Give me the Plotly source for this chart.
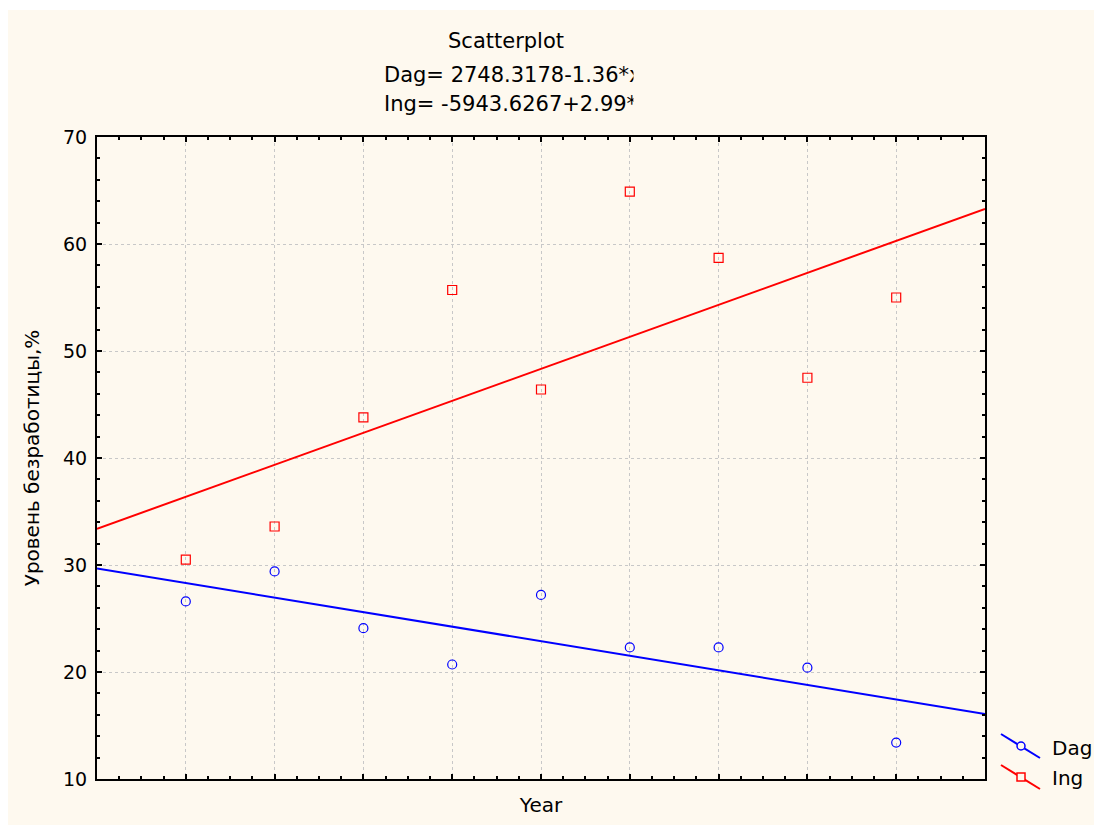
import plotly.graph_objects as go

# --- data -------------------------------------------------------------
years = [2000, 2001, 2002, 2003, 2004, 2005, 2006, 2007, 2008]
dag = [26.6, 29.4, 24.1, 20.7, 27.2, 22.3, 22.3, 20.4, 13.4]
ing = [30.5, 33.6, 43.8, 55.7, 46.4, 64.9, 58.7, 47.5, 55.0]

# fitted regression coefficients (intercept, slope)
dag_fit = (2748.3178, -1.36)
ing_fit = (-5943.6267, 2.99)

x_range = [1999, 2009]
y_range = [10, 70]
y_ticks = [10, 20, 30, 40, 50, 60, 70]

# --- figure geometry ----------------------------------------------------
W, H = 1094, 825
L, R, T, B = 97, 109, 137, 46
PW, PH = W - L - R, H - T - B
CREAM = "#fef9ef"
FONT = "DejaVu Sans, Arial, sans-serif"


def px(x):
    return (x - L) / PW


def py(y):
    return (H - B - y) / PH


fig = go.Figure()

for name, vals, fit, color, symbol in [
    ("Dag", dag, dag_fit, "#0000ff", "circle-open"),
    ("Ing", ing, ing_fit, "#ff0000", "square-open"),
]:
    fig.add_trace(go.Scatter(
        x=x_range, y=[fit[0] + fit[1] * x for x in x_range],
        mode="lines", line=dict(color=color, width=2),
        showlegend=False, hoverinfo="skip"))
    fig.add_trace(go.Scatter(
        x=years, y=vals, mode="markers", name=name,
        marker=dict(symbol=symbol, size=9, color=color,
                    line=dict(width=1.2, color=color)),
        showlegend=False))

axis_common = dict(
    showline=True, linecolor="black", linewidth=2, mirror="ticks",
    ticks="inside", tickcolor="black", tickwidth=2, ticklen=5,
    showgrid=True, gridcolor="#c8c8c8", griddash="3px,3px", gridwidth=1,
    zeroline=False,
)

fig.update_xaxes(
    range=x_range, tickmode="array", tickvals=years, showticklabels=False,
    minor=dict(dtick=0.25, tick0=1999, ticks="inside", ticklen=3,
               tickcolor="black", tickwidth=1.5, showgrid=False),
    title=dict(text="Year", font=dict(size=20, color="black", family=FONT),
               standoff=18),
    **axis_common)
fig.update_yaxes(
    range=y_range, tickmode="array", tickvals=y_ticks,
    ticklabelstandoff=4,
    tickfont=dict(size=19, color="black", family=FONT),
    minor=dict(dtick=2, tick0=10, ticks="inside", ticklen=3,
               tickcolor="black", tickwidth=1.5, showgrid=False),
    title=dict(text="Уровень безработицы,%",
               font=dict(size=20, color="black", family=FONT), standoff=18),
    **axis_common)

shapes = [
    # cream panel behind everything
    dict(type="rect", xref="paper", yref="paper", layer="below",
         x0=px(8), x1=px(W + 2), y0=py(H + 2), y1=py(10),
         fillcolor=CREAM, line=dict(width=0)),
    # legend glyphs
    dict(type="line", xref="paper", yref="paper",
         x0=px(1001), y0=py(734), x1=px(1040), y1=py(758),
         line=dict(color="#0000ff", width=2)),
    dict(type="circle", xref="paper", yref="paper",
         x0=px(1017), x1=px(1025), y0=py(742), y1=py(750),
         fillcolor=CREAM, line=dict(color="#0000ff", width=1.5)),
    dict(type="line", xref="paper", yref="paper",
         x0=px(1001), y0=py(765), x1=px(1040), y1=py(789),
         line=dict(color="#ff0000", width=2)),
    dict(type="rect", xref="paper", yref="paper",
         x0=px(1017), x1=px(1025), y0=py(773), y1=py(781),
         fillcolor=CREAM, line=dict(color="#ff0000", width=1.5)),
]

title_font = dict(size=21, color="black", family=FONT)
annotations = [
    dict(text="Scatterplot", x=px(506), y=py(41), xref="paper", yref="paper",
         showarrow=False, xanchor="center", yanchor="middle", font=title_font),
    dict(text=f"Dag= {dag_fit[0]:.4f}{dag_fit[1]:+.2f}*x",
         x=px(382), y=py(75), xref="paper", yref="paper",
         showarrow=False, xanchor="left", yanchor="middle", font=title_font),
    dict(text=f"Ing= {ing_fit[0]:.4f}{ing_fit[1]:+.2f}*x",
         x=px(382), y=py(104), xref="paper", yref="paper",
         showarrow=False, xanchor="left", yanchor="middle", font=title_font),
    # the equation box clips its right edge
    dict(text=" ", x=px(633), y=py(90), xref="paper", yref="paper",
         showarrow=False, xanchor="left", yanchor="middle",
         width=60, height=60, bgcolor=CREAM, font=title_font),
    dict(text="Dag", x=px(1050), y=py(748), xref="paper", yref="paper",
         showarrow=False, xanchor="left", yanchor="middle",
         font=dict(size=20, color="black", family=FONT)),
    dict(text="Ing", x=px(1050), y=py(778), xref="paper", yref="paper",
         showarrow=False, xanchor="left", yanchor="middle",
         font=dict(size=20, color="black", family=FONT)),
]

fig.update_layout(
    width=W, height=H,
    margin=dict(l=L, r=R, t=T, b=B, autoexpand=False),
    paper_bgcolor="white", plot_bgcolor="white",
    font=dict(family=FONT, color="black"),
    showlegend=False,
    shapes=shapes, annotations=annotations,
)

fig.write_html("out.html")
